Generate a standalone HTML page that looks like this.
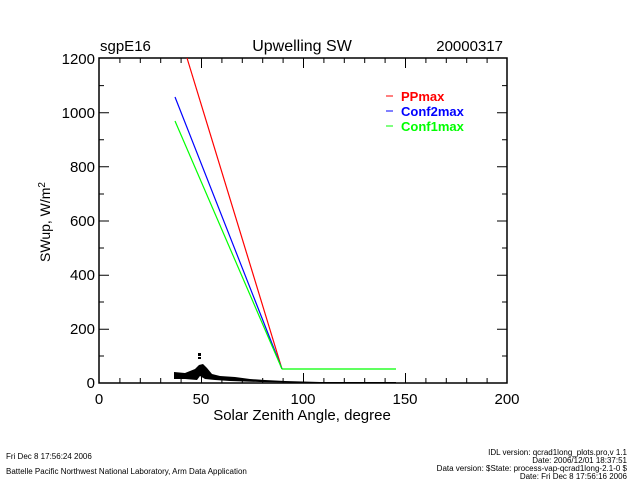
<!DOCTYPE html>
<html><head><style>body{margin:0;background:#fff}svg{display:block}text{font-family:"Liberation Sans",sans-serif}</style></head><body>
<svg width="640" height="480" xmlns="http://www.w3.org/2000/svg">
<rect width="640" height="480" fill="#fff"/>
<g fill="#000" font-size="15">
<text x="100" y="51">sgpE16</text>
<text x="302" y="51" text-anchor="middle" font-size="16">Upwelling SW</text>
<text x="503" y="51" text-anchor="end">20000317</text>
</g>
<rect x="99" y="58" width="408" height="325" stroke="#000" stroke-width="1.5" fill="none"/>
<path stroke="#000" stroke-width="1" d="
M201.5 383v-10M303.5 383v-10M405.5 383v-10
M201.5 58v10M303.5 58v10M405.5 58v10
M119.9 383v-5M140.3 383v-5M160.7 383v-5M181.1 383v-5M221.9 383v-5M242.3 383v-5M262.7 383v-5M283.1 383v-5M323.9 383v-5M344.3 383v-5M364.7 383v-5M385.1 383v-5M425.9 383v-5M446.3 383v-5M466.7 383v-5M487.1 383v-5
M119.9 58v5M140.3 58v5M160.7 58v5M181.1 58v5M221.9 58v5M242.3 58v5M262.7 58v5M283.1 58v5M323.9 58v5M344.3 58v5M364.7 58v5M385.1 58v5M425.9 58v5M446.3 58v5M466.7 58v5M487.1 58v5
M99 329.3h10M99 275.2h10M99 221h10M99 166.8h10M99 112.7h10
M507 329.3h-10M507 275.2h-10M507 221h-10M507 166.8h-10M507 112.7h-10
M99 356h5M99 302h5M99 248h5M99 194h5M99 139.7h5M99 85.6h5
M507 356h-5M507 302h-5M507 248h-5M507 194h-5M507 139.7h-5M507 85.6h-5"/>
<g font-size="15" fill="#000" text-anchor="end">
<text x="95" y="388">0</text><text x="95" y="334">200</text><text x="95" y="280">400</text><text x="95" y="226">600</text><text x="95" y="172">800</text><text x="95" y="118">1000</text><text x="95" y="64">1200</text>
</g>
<g font-size="15" fill="#000" text-anchor="middle">
<text x="99" y="404">0</text><text x="201" y="404">50</text><text x="303" y="404">100</text><text x="405" y="404">150</text><text x="507" y="404">200</text>
<text x="302" y="420">Solar Zenith Angle, degree</text>
</g>
<text transform="translate(50,222) rotate(-90)" font-size="14" text-anchor="middle" fill="#000">SWup, W/m<tspan font-size="10" dy="-5">2</tspan></text>
<path d="M174 372L185 373L195 369L199 365L203 364L207 368L212 374L220 376L235 377L250 379L265 380L285 381L320 382L396 382L396 383L320 383L260 382L230 381L215 380L205 379L200 376L197 380L185 379L174 379Z" fill="#000"/>
<rect x="198" y="353" width="3" height="3" fill="#000"/><rect x="198" y="357" width="3" height="2" fill="#000"/>
<polyline points="282,369 396,369" stroke="#0f0" stroke-width="1.2" fill="none"/>
<path d="M187 58Q233 208 282 369" stroke="#f00" stroke-width="1.2" fill="none"/>
<path d="M175 97Q226 225 282 369" stroke="#00f" stroke-width="1.2" fill="none"/>
<path d="M175 121Q226 240 282 369" stroke="#0f0" stroke-width="1.2" fill="none"/>
<g font-size="13" font-weight="bold">
<line x1="386" y1="96" x2="393" y2="96" stroke="#f00"/><text x="401" y="101" fill="#f00">PPmax</text>
<line x1="386" y1="111" x2="393" y2="111" stroke="#00f"/><text x="401" y="116" fill="#00f">Conf2max</text>
<line x1="386" y1="126" x2="393" y2="126" stroke="#0f0"/><text x="401" y="131" fill="#0f0">Conf1max</text>
</g>
<g font-size="8" fill="#000">
<text x="6" y="459">Fri Dec  8 17:56:24 2006</text>
<text x="6" y="474">Battelle Pacific Northwest National Laboratory, Arm Data Application</text>
<g text-anchor="end">
<text x="627" y="455">IDL version: qcrad1long_plots.pro,v 1.1</text>
<text x="627" y="463">Date: 2006/12/01 18:37:51</text>
<text x="627" y="471">Data version: $State: process-vap-qcrad1long-2.1-0 $</text>
<text x="627" y="479">Date: Fri Dec  8 17:56:16 2006</text>
</g></g>
</svg>
</body></html>
